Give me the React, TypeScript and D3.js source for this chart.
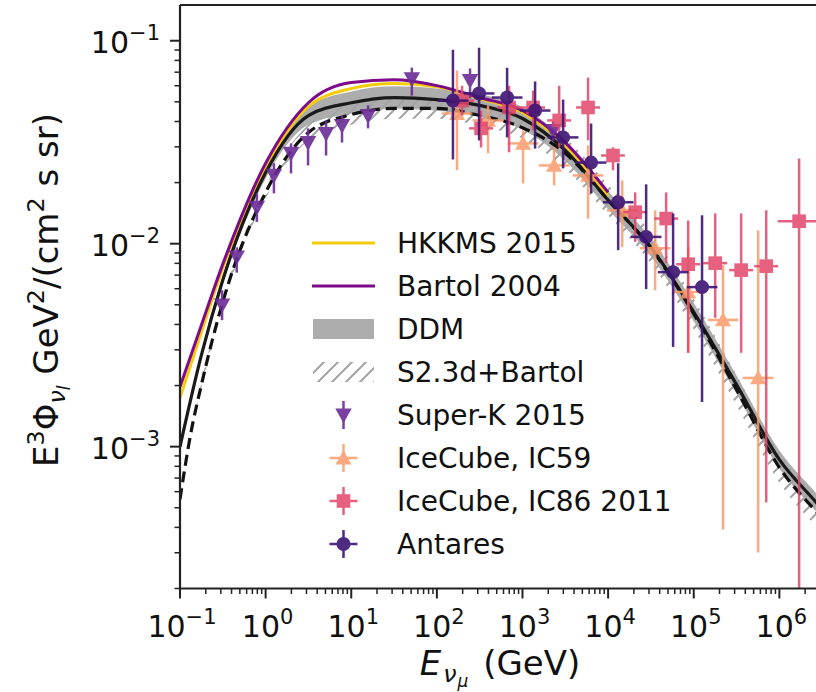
import React from "react";
import * as d3 from "d3";

// ---------------- data ----------------
const modelE = [0.1, 0.178, 0.316, 1, 3.16, 10, 31.6, 100, 316, 1000, 3160, 1e4];
const hkkmsFlux = [1.74e-3, 3.67e-3, 7.59e-3, 2.38e-2, 4.74e-2, 5.81e-2, 6.15e-2, 5.94e-2, 5.19e-2, 4.43e-2, 3.05e-2, 1.71e-2];
const bartolFlux = [1.97e-3, 3.98e-3, 7.93e-3, 2.49e-2, 4.95e-2, 6.22e-2, 6.43e-2, 6.01e-2, 5.25e-2, 4.53e-2, 3.15e-2, 1.79e-2];

const ddmE = [0.1, 0.178, 0.316, 1, 3.16, 10, 31.6, 100, 316, 1000, 3160, 1e4, 3.16e4, 1e5, 3.16e5, 1e6, 2.69e6, 3e6];
const ddmFlux = [1.0e-3, 2.83e-3, 6.62e-3, 2.24e-2, 4.28e-2, 4.95e-2, 5.25e-2, 5.13e-2, 4.8e-2, 4.14e-2, 2.88e-2, 1.64e-2, 9.6e-3, 4.6e-3, 2.02e-3, 8.63e-4, 5.31e-4, 5.03e-4];
const ddmHi = [1.023e-3, 2.93e-3, 6.93e-3, 2.4e-2, 4.74e-2, 5.62e-2, 5.96e-2, 5.82e-2, 5.45e-2, 4.7e-2, 3.23e-2, 1.82e-2, 1.06e-2, 5.1e-3, 2.24e-3, 9.57e-4, 5.89e-4, 5.58e-4];
const ddmLo = [9.77e-4, 2.74e-3, 6.32e-3, 2.09e-2, 3.85e-2, 4.37e-2, 4.62e-2, 4.52e-2, 4.23e-2, 3.65e-2, 2.56e-2, 1.48e-2, 8.65e-3, 4.15e-3, 1.82e-3, 7.78e-4, 4.79e-4, 4.54e-4];

const s23E = [0.1, 0.133, 0.178, 0.316, 1, 3.16, 10, 31.6, 100, 316, 1000, 3160, 1e4, 3.16e4, 1e5, 3.16e5, 1e6, 2.69e6, 3e6];
const s23Flux = [5.5e-4, 1.15e-3, 2.02e-3, 5.16e-3, 1.79e-2, 3.53e-2, 4.33e-2, 4.64e-2, 4.64e-2, 4.28e-2, 3.73e-2, 2.79e-2, 1.64e-2, 9.5e-3, 4.51e-3, 1.91e-3, 7.89e-4, 4.8e-4, 4.57e-4];
const s23Hi = [5.63e-4, 1.18e-3, 2.09e-3, 5.4e-3, 1.92e-2, 3.87e-2, 4.86e-2, 5.21e-2, 5.21e-2, 4.8e-2, 4.23e-2, 3.31e-2, 1.95e-2, 1.13e-2, 5.36e-3, 2.26e-3, 9.38e-4, 5.7e-4, 5.43e-4];
const s23Lo = [5.37e-4, 1.12e-3, 1.95e-3, 4.93e-3, 1.67e-2, 3.22e-2, 3.86e-2, 4.13e-2, 4.13e-2, 3.81e-2, 3.29e-2, 2.34e-2, 1.38e-2, 8.0e-3, 3.79e-3, 1.6e-3, 6.64e-4, 4.04e-4, 3.85e-4];

const superKE = [0.31, 0.46, 0.79, 1.25, 1.98, 3.13, 5.08, 7.8, 15.7, 51, 244, 2276];
const superKFlux = [4.99e-3, 8.59e-3, 1.51e-2, 2.17e-2, 2.79e-2, 3.15e-2, 3.49e-2, 3.82e-2, 4.28e-2, 6.5e-2, 6.36e-2, 3.61e-2];
const superKHi = [5.9e-3, 9.6e-3, 1.77e-2, 2.49e-2, 3.12e-2, 3.7e-2, 4.05e-2, 4.28e-2, 4.8e-2, 7.37e-2, 7.3e-2, 4.0e-2];
const superKLo = [4.2e-3, 7.2e-3, 1.28e-2, 1.77e-2, 2.22e-2, 2.43e-2, 2.72e-2, 3.15e-2, 3.7e-2, 5.37e-2, 5.2e-2, 3.2e-2];

const ic59E = [172, 396, 1016, 2339, 5834, 1.46e4, 3.54e4, 8.61e4, 2.2e5, 5.65e5];
const ic59ELo = [114, 262, 673, 1549, 3864, 9670, 2.34e4, 5.7e4, 1.46e5, 3.74e5];
const ic59EHi = [260, 598, 1534, 3532, 8809, 2.2e4, 5.35e4, 1.3e5, 3.32e5, 8.53e5];
const ic59Flux = [4.38e-2, 4.05e-2, 3.12e-2, 2.43e-2, 2.17e-2, 1.46e-2, 9.5e-3, 5.78e-3, 4.21e-3, 2.18e-3];
const ic59Hi = [7.13e-2, 4.8e-2, 3.61e-2, 2.98e-2, 3.05e-2, 2.05e-2, 1.46e-2, 9.6e-3, 7.83e-3, 1.16e-2];
const ic59Lo = [2.3e-2, 2.79e-2, 1.98e-2, 1.94e-2, 1.33e-2, 9.6e-3, 5.9e-3, 2.9e-3, 3.91e-4, 3.01e-4];

const ic86E = [197, 328, 697, 1330, 2680, 5834, 1.14e4, 2.07e4, 4.76e4, 8.61e4, 1.78e5, 3.58e5, 7.02e5, 1.7e6];
const ic86ELo = [143, 238, 505, 964, 1942, 4228, 8260, 1.5e4, 3.45e4, 6.24e4, 1.29e5, 2.59e5, 5.09e5, 9.56e5];
const ic86EHi = [272, 453, 962, 1835, 3698, 8050, 1.57e4, 2.86e4, 6.57e4, 1.19e5, 2.46e5, 4.94e5, 9.69e5, 3.02e6];
const ic86Flux = [5.07e-2, 3.7e-2, 4.69e-2, 4.69e-2, 4.05e-2, 4.69e-2, 2.72e-2, 1.43e-2, 1.33e-2, 7.92e-3, 8.02e-3, 7.41e-3, 7.75e-3, 1.29e-2];
const ic86Hi = [6.0e-2, 4.53e-2, 6.0e-2, 5.68e-2, 6.0e-2, 6.58e-2, 2.98e-2, 1.79e-2, 1.79e-2, 1.3e-2, 1.41e-2, 1.41e-2, 1.46e-2, 2.63e-2];
const ic86Lo = [4.28e-2, 2.98e-2, 2.82e-2, 3.61e-2, 2.98e-2, 3.23e-2, 2.3e-2, 1.02e-2, 8.02e-3, 2.9e-3, 4.31e-3, 2.9e-3, 5.31e-4, 1e-5];

const antaresE = [154, 311, 661, 1403, 2980, 6324, 1.31e4, 2.78e4, 5.74e4, 1.25e5];
const antaresELo = [102, 206, 438, 930, 1970, 4190, 8680, 1.84e4, 3.8e4, 8.3e4];
const antaresEHi = [233, 470, 1000, 2120, 4500, 9550, 1.98e4, 4.2e4, 8.67e4, 1.89e5];
const antaresFlux = [5.07e-2, 5.5e-2, 5.25e-2, 4.53e-2, 3.34e-2, 2.51e-2, 1.6e-2, 1.08e-2, 7.24e-3, 6.11e-3];
const antaresHi = [9.03e-2, 9.24e-2, 7.36e-2, 6.3e-2, 5.13e-2, 3.91e-2, 2.49e-2, 1.96e-2, 1.41e-2, 1.38e-2];
const antaresLo = [2.6e-2, 3.23e-2, 3.34e-2, 2.94e-2, 2.35e-2, 1.77e-2, 9.29e-3, 5.97e-3, 3.1e-3, 1.66e-3];

const xTickExps = [-1, 0, 1, 2, 3, 4, 5, 6, 7];
const xLabelExps = [-1, 0, 1, 2, 3, 4, 5, 6];
const yTickExps = [-1, -2, -3];
const legendLabels = [
  "HKKMS 2015",
  "Bartol 2004",
  "DDM",
  "S2.3d+Bartol",
  "Super-K 2015",
  "IceCube, IC59",
  "IceCube, IC86 2011",
  "Antares",
];

// ---------------- styling ----------------
const W = 816;
const H = 692;
const PL = 180, PR = 865, PT = 5, PB = 588.5;
const FONT = "DejaVu Sans, sans-serif";
const C_HKKMS = "#f5cc0a";
const C_BARTOL = "#7d0a8a";
const C_DDM = "#adadad";
const C_HATCH = "#a3a3a3";
const C_SK = "#6b2c96";
const C_IC59 = "#fb9b6a";
const C_IC86 = "#e2466b";
const C_ANT = "#3d1474";

const x = d3.scaleLog().domain([0.1, 1e7]).range([PL, PR]);
const y = d3.scaleLog().domain([2e-4, 0.15]).range([PB, PT]);

type Pt = { e: number; v: number };
const zip = (es: number[], vs: number[]): Pt[] => es.map((e, i) => ({ e, v: vs[i] }));

const line = d3
  .line<Pt>()
  .x((d) => x(d.e))
  .y((d) => y(d.v))
  .curve(d3.curveMonotoneX);

type Band = { e: number; lo: number; hi: number };
const area = d3
  .area<Band>()
  .x((d) => x(d.e))
  .y0((d) => y(d.lo))
  .y1((d) => y(d.hi))
  .curve(d3.curveMonotoneX);
const band = (es: number[], lo: number[], hi: number[]): Band[] =>
  es.map((e, i) => ({ e, lo: lo[i], hi: hi[i] }));

function Marker({ kind, cx, cy, color }: { kind: string; cx: number; cy: number; color: string }) {
  if (kind === "v") {
    const s = 8.2;
    return <path d={`M${cx - s},${cy - s * 0.8} L${cx + s},${cy - s * 0.8} L${cx},${cy + s * 1.0} Z`} fill={color} />;
  }
  if (kind === "^") {
    const s = 8;
    return <path d={`M${cx - s},${cy + s * 0.8} L${cx + s},${cy + s * 0.8} L${cx},${cy - s * 1.0} Z`} fill={color} />;
  }
  if (kind === "s") {
    const s = 6.8;
    return <rect x={cx - s} y={cy - s} width={2 * s} height={2 * s} fill={color} />;
  }
  return <circle cx={cx} cy={cy} r={7} fill={color} />;
}

function Series({
  kind, color, es, vs, lo, hi, eLo, eHi, opacity,
}: {
  kind: string; color: string; es: number[]; vs: number[]; lo: number[]; hi: number[];
  eLo?: number[]; eHi?: number[]; opacity: number;
}) {
  return (
    <g>
      {es.map((e, i) => {
        const cx = x(e);
        const cy = y(vs[i]);
        return (
          <g key={i} opacity={opacity}>
            <line x1={cx} x2={cx} y1={y(Math.max(lo[i], 1e-5))} y2={y(hi[i])} stroke={color} strokeWidth={2.5} />
            {eLo && eHi && (
              <line x1={x(eLo[i])} x2={x(eHi[i])} y1={cy} y2={cy} stroke={color} strokeWidth={2.5} />
            )}
            <Marker kind={kind} cx={cx} cy={cy} color={color} />
          </g>
        );
      })}
    </g>
  );
}

function Pow10({ exp, fs }: { exp: number; fs: number }) {
  const s = exp < 0 ? "\u2212" + Math.abs(exp) : String(exp);
  return (
    <>
      <tspan>10</tspan>
      <tspan dy={-0.42 * fs} fontSize={fs * 0.7}>{s}</tspan>
    </>
  );
}

export default function App() {
  const minorX: number[] = [];
  for (let k = -1; k <= 6; k++) for (let m = 2; m <= 9; m++) minorX.push(m * Math.pow(10, k));
  const minorY: number[] = [];
  for (let k = -4; k <= -1; k++)
    for (let m = 2; m <= 9; m++) {
      const v = m * Math.pow(10, k);
      if (v >= 2e-4 && v <= 0.15) minorY.push(v);
    }

  const tickFs = 30;
  const legFs = 28;
  const labFs = 34;

  const legX0 = 312, legX1 = 375, legTX = 397, legY0 = 243, legDY = 43;
  const rowY = (i: number) => legY0 + i * legDY;

  return (
    <svg width={W} height={H} style={{ position: "absolute", left: 0, top: 0, background: "#fff" }} fontFamily={FONT}>
      <defs>
        <clipPath id="plotClip">
          <rect x={PL} y={PT} width={PR - PL} height={PB - PT} />
        </clipPath>
        <pattern id="hatch" patternUnits="userSpaceOnUse" width={14} height={14}>
          <path d="M-3.5,3.5 L3.5,-3.5 M0,14 L14,0 M10.5,17.5 L17.5,10.5" stroke={C_HATCH} strokeWidth={2} />
        </pattern>
      </defs>
      <rect x={0} y={0} width={W} height={H} fill="#fff" />

      <g clipPath="url(#plotClip)">
        <path d={area(band(ddmE, ddmLo, ddmHi)) || ""} fill={C_DDM} />
        <path d={area(band(s23E, s23Lo, s23Hi)) || ""} fill="url(#hatch)" />
        <path d={line(zip(modelE, hkkmsFlux)) || ""} fill="none" stroke={C_HKKMS} strokeWidth={3} />
        <path d={line(zip(modelE, bartolFlux)) || ""} fill="none" stroke={C_BARTOL} strokeWidth={3} />
        <path d={line(zip(ddmE, ddmFlux)) || ""} fill="none" stroke="#1a1a1a" strokeWidth={3.2} />
        <path d={line(zip(s23E, s23Flux)) || ""} fill="none" stroke="#111" strokeWidth={3.2} strokeDasharray="11,6" />

        <Series kind="v" color={C_SK} es={superKE} vs={superKFlux} lo={superKLo} hi={superKHi} opacity={0.9} />
        <Series kind="^" color={C_IC59} es={ic59E} vs={ic59Flux} lo={ic59Lo} hi={ic59Hi} eLo={ic59ELo} eHi={ic59EHi} opacity={0.85} />
        <Series kind="s" color={C_IC86} es={ic86E} vs={ic86Flux} lo={ic86Lo} hi={ic86Hi} eLo={ic86ELo} eHi={ic86EHi} opacity={0.85} />
        <Series kind="o" color={C_ANT} es={antaresE} vs={antaresFlux} lo={antaresLo} hi={antaresHi} eLo={antaresELo} eHi={antaresEHi} opacity={0.9} />
      </g>

      {/* spines */}
      <g stroke="#222" strokeWidth={2.2} fill="none">
        <line x1={PL} x2={PL} y1={PT} y2={PB} />
        <line x1={PL} x2={PR} y1={PB} y2={PB} />
        <line x1={PL} x2={PR} y1={PT} y2={PT} />
        <line x1={PR} x2={PR} y1={PT} y2={PB} />
      </g>

      {/* ticks */}
      <g stroke="#222">
        {xTickExps.map((k) => (
          <line key={"xm" + k} x1={x(Math.pow(10, k))} x2={x(Math.pow(10, k))} y1={PB} y2={PB + 10} strokeWidth={2} />
        ))}
        {minorX.map((v, i) => (
          <line key={"xn" + i} x1={x(v)} x2={x(v)} y1={PB} y2={PB + 5.5} strokeWidth={1.5} />
        ))}
        {yTickExps.map((k) => (
          <line key={"ym" + k} x1={PL - 10} x2={PL} y1={y(Math.pow(10, k))} y2={y(Math.pow(10, k))} strokeWidth={2} />
        ))}
        {minorY.map((v, i) => (
          <line key={"yn" + i} x1={PL - 5.5} x2={PL} y1={y(v)} y2={y(v)} strokeWidth={1.5} />
        ))}
      </g>

      <g fontSize={tickFs} fill="#111">
        {xLabelExps.map((k) => (
          <text key={"xl" + k} x={x(Math.pow(10, k)) + 2} y={637} textAnchor="middle">
            <Pow10 exp={k} fs={tickFs} />
          </text>
        ))}
        {yTickExps.map((k) => (
          <text key={"yl" + k} x={160} y={y(Math.pow(10, k)) + 12} textAnchor="end">
            <Pow10 exp={k} fs={tickFs} />
          </text>
        ))}
      </g>

      {/* axis labels */}
      <text x={500} y={675} textAnchor="middle" fontSize={labFs} fill="#111">
        <tspan fontStyle="italic">E</tspan>
        <tspan dx={2} dy={0.2 * labFs} fontSize={labFs * 0.7} fontStyle="italic">ν</tspan>
        <tspan dx={1} dy={0.14 * labFs} fontSize={labFs * 0.5} fontStyle="italic">μ</tspan>
        <tspan dx={4} dy={-0.34 * labFs}>{"\u00a0(GeV)"}</tspan>
      </text>
      <text transform="translate(58,290) rotate(-90)" textAnchor="middle" fontSize={labFs} fill="#111">
        <tspan>E</tspan>
        <tspan dy={-0.42 * labFs} fontSize={labFs * 0.7}>3</tspan>
        <tspan dy={0.42 * labFs}>Φ</tspan>
        <tspan dy={0.2 * labFs} fontSize={labFs * 0.7} fontStyle="italic">ν</tspan>
        <tspan dy={0.14 * labFs} fontSize={labFs * 0.5} fontStyle="italic">l</tspan>
        <tspan dy={-0.34 * labFs}>{"\u00a0GeV"}</tspan>
        <tspan dy={-0.42 * labFs} fontSize={labFs * 0.7}>2</tspan>
        <tspan dy={0.42 * labFs}>/(cm</tspan>
        <tspan dy={-0.42 * labFs} fontSize={labFs * 0.7}>2</tspan>
        <tspan dy={0.42 * labFs}>{"\u00a0s sr)"}</tspan>
      </text>

      {/* legend */}
      <g>
        <line x1={legX0} x2={legX1} y1={rowY(0)} y2={rowY(0)} stroke={C_HKKMS} strokeWidth={3} />
        <line x1={legX0} x2={legX1} y1={rowY(1)} y2={rowY(1)} stroke={C_BARTOL} strokeWidth={3} />
        <rect x={legX0 + 1} y={rowY(2) - 10} width={legX1 - legX0 - 2} height={20} fill={C_DDM} />
        <rect x={legX0 + 1} y={rowY(3) - 10} width={legX1 - legX0 - 2} height={20} fill="url(#hatch)" />
        {[
          { kind: "v", color: C_SK, h: false, op: 0.9 },
          { kind: "^", color: C_IC59, h: true, op: 0.85 },
          { kind: "s", color: C_IC86, h: true, op: 0.85 },
          { kind: "o", color: C_ANT, h: true, op: 0.9 },
        ].map((m, j) => {
          const cy = rowY(4 + j);
          const cx = (legX0 + legX1) / 2;
          return (
            <g key={j} opacity={m.op}>
              <line x1={cx} x2={cx} y1={cy - 14} y2={cy + 14} stroke={m.color} strokeWidth={2.5} />
              {m.h && <line x1={cx - 14} x2={cx + 14} y1={cy} y2={cy} stroke={m.color} strokeWidth={2.5} />}
              <Marker kind={m.kind} cx={cx} cy={cy} color={m.color} />
            </g>
          );
        })}
        {legendLabels.map((t, i) => (
          <text key={t} x={legTX} y={rowY(i) + 10} fontSize={legFs} fill="#111">
            {t}
          </text>
        ))}
      </g>
    </svg>
  );
}
